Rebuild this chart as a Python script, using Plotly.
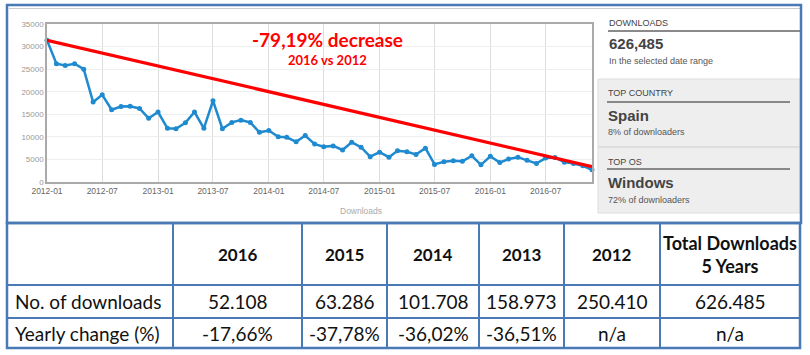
import plotly.graph_objects as go
import pandas as pd

# ---------------- data ----------------
months = pd.date_range("2012-01-01", "2016-12-01", freq="MS")
downloads_2012 = [31400, 26200, 25800, 26200, 25000, 17700, 19300, 16000, 16700, 16800, 16300, 14100]
downloads_2013 = [15500, 11900, 11800, 13100, 15500, 11900, 18000, 11800, 13200, 13700, 13200, 11000]
downloads_2014 = [11400, 10000, 9900, 8900, 10300, 8400, 7800, 8000, 7100, 8800, 7700, 5600]
downloads_2015 = [6600, 5500, 6900, 6700, 6100, 7500, 3900, 4500, 4700, 4600, 5800, 3800]
downloads_2016 = [5700, 4300, 5100, 5500, 4800, 4100, 5300, 5400, 4400, 4100, 3600, 2700]
monthly = downloads_2012 + downloads_2013 + downloads_2014 + downloads_2015 + downloads_2016

trend_dates = ["2012-01-01", "2016-12-01"]
trend_values = [31400, 3400]

table_years = ["2016", "2015", "2014", "2013", "2012"]
table_downloads = [52108, 63286, 101708, 158973, 250410]
table_total = 626485
table_change = [-17.66, -37.78, -36.02, -36.51, None]

panel_total = "626,485"
top_country = "Spain"
top_country_share = "8% of downloaders"
top_os = "Windows"
top_os_share = "72% of downloaders"

# ---------------- helpers ----------------
W, H = 810, 355
def X(px): return px / W
def Y(py): return 1 - py / H

def eu_int(v):
    return f"{v:,}".replace(",", ".")

def eu_pct(v):
    return "n/a" if v is None else f"{v:.2f}%".replace(".", ",")

BLUE = "#4a7ab5"
CAL = "Lato, 'Open Sans', sans-serif"
ARIAL = "'Liberation Sans', Arial, sans-serif"

fig = go.Figure()
fig.add_trace(go.Scatter(
    x=months, y=monthly, mode="lines+markers",
    line=dict(color="#1f8ad0", width=2.5),
    marker=dict(color="#1f8ad0", size=5),
    cliponaxis=False, showlegend=False, hoverinfo="x+y"))
fig.add_trace(go.Scatter(
    x=trend_dates, y=trend_values, mode="lines",
    line=dict(color="#ff0000", width=3.2),
    cliponaxis=False, showlegend=False))

shapes = []
ann = []

# chart annotation
ann.append(dict(x=X(327), y=Y(40), xref="paper", yref="paper", showarrow=False,
                text="<b>-79,19% decrease</b>", font=dict(family=CAL, size=19, color="#ff0000"),
                xanchor="center", yanchor="middle"))
ann.append(dict(x=X(327), y=Y(60), xref="paper", yref="paper", showarrow=False,
                text="<b>2016 vs 2012</b>", font=dict(family=CAL, size=13, color="#ff0000"),
                xanchor="center", yanchor="middle"))
ann.append(dict(x=X(361), y=Y(211), xref="paper", yref="paper", showarrow=False,
                text="Downloads", font=dict(family=ARIAL, size=8.5, color="#aaaaaa"),
                xanchor="center", yanchor="middle"))

# right panel
shapes.append(dict(type="rect", xref="paper", yref="paper", x0=X(598), x1=X(800), y0=Y(213), y1=Y(79),
                   fillcolor="#eeeeee", line=dict(color="#dddddd", width=1), layer="below"))
shapes.append(dict(type="line", xref="paper", yref="paper", x0=X(598), x1=X(800), y0=Y(147), y1=Y(147),
                   line=dict(color="#d8d8d8", width=1.5)))
shapes.append(dict(type="line", xref="paper", yref="paper", x0=X(608), x1=X(800), y0=Y(31), y1=Y(31),
                   line=dict(color="#8a8a8a", width=2)))
shapes.append(dict(type="line", xref="paper", yref="paper", x0=X(607), x1=X(790), y0=Y(102), y1=Y(102),
                   line=dict(color="#666666", width=1.5)))
shapes.append(dict(type="line", xref="paper", yref="paper", x0=X(607), x1=X(790), y0=Y(169), y1=Y(169),
                   line=dict(color="#666666", width=1.5)))

def panel_text(x, y, text, size, bold=False, color="#555555"):
    t = f"<b>{text}</b>" if bold else text
    ann.append(dict(x=X(x), y=Y(y), xref="paper", yref="paper", showarrow=False, text=t,
                    font=dict(family=ARIAL, size=size, color=color), xanchor="left", yanchor="middle"))

panel_text(607, 23, "DOWNLOADS", 9, bold=False, color="#444444")
panel_text(607, 43, panel_total, 15, bold=True, color="#444444")
panel_text(607, 61, "In the selected date range", 9, color="#555555")
panel_text(606, 93, "TOP COUNTRY", 9, bold=False, color="#444444")
panel_text(606, 115, top_country, 15, bold=True, color="#444444")
panel_text(606, 132, top_country_share, 9, color="#555555")
panel_text(606, 162, "TOP OS", 9, bold=False, color="#444444")
panel_text(606, 182, top_os, 15, bold=True, color="#444444")
panel_text(606, 200, top_os_share, 9, color="#555555")

# screenshot frame
shapes.append(dict(type="line", xref="paper", yref="paper", x0=X(9), x1=X(800), y0=Y(8.5), y1=Y(8.5),
                   line=dict(color="#cccccc", width=1)))
shapes.append(dict(type="rect", xref="paper", yref="paper", x0=X(7), x1=X(801), y0=Y(223), y1=Y(5),
                   line=dict(color=BLUE, width=2.5)))

# table
col_edges = [7, 173, 302, 387, 479, 564, 660, 800]
row_edges = [223, 285, 318, 348]
shapes.append(dict(type="rect", xref="paper", yref="paper", x0=X(col_edges[0]), x1=X(col_edges[-1]),
                   y0=Y(row_edges[-1]), y1=Y(row_edges[0]), line=dict(color=BLUE, width=2.5)))
for cx in col_edges[1:-1]:
    shapes.append(dict(type="line", xref="paper", yref="paper", x0=X(cx), x1=X(cx),
                       y0=Y(row_edges[-1]), y1=Y(row_edges[0]), line=dict(color=BLUE, width=2)))
for ry in row_edges[1:-1]:
    shapes.append(dict(type="line", xref="paper", yref="paper", x0=X(col_edges[0]), x1=X(col_edges[-1]),
                       y0=Y(ry), y1=Y(ry), line=dict(color=BLUE, width=2)))

header = table_years + ["Total Downloads<br>5 Years"]
row1 = [eu_int(v) for v in table_downloads] + [eu_int(table_total)]
row2 = [eu_pct(v) for v in table_change] + ["n/a"]
row_centers = [(row_edges[i] + row_edges[i + 1]) / 2 for i in range(3)]
for i in range(6):
    cxm = (col_edges[i + 1] + col_edges[i + 2]) / 2
    hsize = 18 if i == 5 else 17
    ann.append(dict(x=X(cxm), y=Y(row_centers[0]), xref="paper", yref="paper", showarrow=False,
                    text=f"<b>{header[i]}</b>", font=dict(family=CAL, size=hsize, color="#111111"),
                    xanchor="center", yanchor="middle"))
    ann.append(dict(x=X(cxm), y=Y(row_centers[1]), xref="paper", yref="paper", showarrow=False,
                    text=row1[i], font=dict(family=CAL, size=19, color="#111111"),
                    xanchor="center", yanchor="middle"))
    ann.append(dict(x=X(cxm), y=Y(row_centers[2]), xref="paper", yref="paper", showarrow=False,
                    text=row2[i], font=dict(family=CAL, size=19, color="#111111"),
                    xanchor="center", yanchor="middle"))
for label, rc in [("No. of downloads", row_centers[1]), ("Yearly change (%)", row_centers[2])]:
    ann.append(dict(x=X(13), y=Y(rc), xref="paper", yref="paper", showarrow=False,
                    text=label, font=dict(family=CAL, size=19, color="#111111"),
                    xanchor="left", yanchor="middle"))

fig.update_layout(
    width=W, height=H, margin=dict(l=0, r=0, t=0, b=0, autoexpand=False),
    paper_bgcolor="white", plot_bgcolor="white",
    shapes=shapes, annotations=ann, showlegend=False,
    xaxis=dict(domain=[X(47), X(592)], range=["2012-01-01", "2016-12-01"], type="date",
               dtick="M6", tick0="2012-01-01", tickformat="%Y-%m", automargin=False,
               showgrid=True, gridcolor="#dddddd", gridwidth=1,
               showline=True, linecolor="#aaaaaa", linewidth=1.5, mirror=True,
               ticks="", tickfont=dict(family=ARIAL, size=8.5, color="#666666"), zeroline=False),
    yaxis=dict(domain=[Y(182), Y(24)], range=[0, 35000], dtick=5000, tickformat="d", automargin=False,
               showgrid=True, gridcolor="#eeeeee", gridwidth=1,
               showline=True, linecolor="#aaaaaa", linewidth=1.5, mirror=True,
               ticks="", tickfont=dict(family=ARIAL, size=8, color="#999999"), zeroline=False),
)

fig.write_html("out.html", config={"displayModeBar": False},
               post_script="document.body.style.margin='0';")
